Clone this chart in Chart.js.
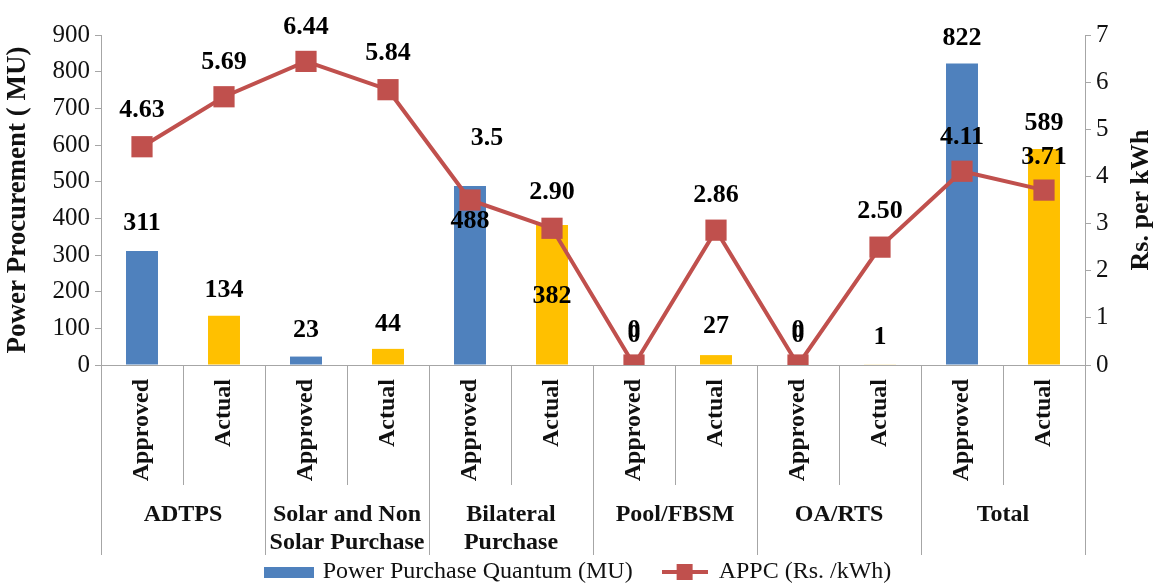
<!DOCTYPE html>
<html>
<head>
<meta charset="utf-8">
<script src="https://cdn.jsdelivr.net/npm/chart.js@4.4.0/dist/chart.umd.min.js"></script>
<style>
  html, body { margin: 0; padding: 0; background: #fff; }
  #wrap { width: 1158px; height: 583px; }
</style>
</head>
<body>
<div id="wrap"><canvas id="chart"></canvas></div>
<script>
/* ---- Power purchase: approved vs actual ---- */

const subLabels = ['Approved', 'Actual', 'Approved', 'Actual', 'Approved', 'Actual',
                   'Approved', 'Actual', 'Approved', 'Actual', 'Approved', 'Actual'];
const groupLabels = [['ADTPS'], ['Solar and Non', 'Solar Purchase'], ['Bilateral', 'Purchase'],
                     ['Pool/FBSM'], ['OA/RTS'], ['Total']];
const quantumMU = [311, 134, 23, 44, 488, 382, 0, 27, 0, 1, 822, 589];
const appcRs = [4.63, 5.69, 6.44, 5.84, 3.5, 2.90, 0, 2.86, 0, 2.50, 4.11, 3.71];
const appcText = ['4.63', '5.69', '6.44', '5.84', '3.5', '2.90', '0', '2.86', '0', '2.50', '4.11', '3.71'];
const leftTicks = { min: 0, max: 900, step: 100 };
const rightTicks = { min: 0, max: 7, step: 1 };

// label nudges (px), the way the original had them dragged around
const barLabelDy = [-28, -26, -26, -25, 35, 71, -35, -29, -35, -27, -25, -26];
const lineLabelDy = [-36, -34, -34, -36, -62, -36, -30, -35, -30, -36, -34, -33];
const lineLabelDx = [0, 0, 0, 0, 17, 0, 0, 0, 0, 0, 0, 0];

const BLUE = '#4F81BD', GOLD = '#FFC000', RED = '#C0504D', AXIS = '#a6a6a6', INK = '#111';
const SERIF = "'Liberation Serif', 'Times New Roman', serif";

function legendIcon(w, h, draw) {
  const c = document.createElement('canvas');
  c.width = w; c.height = h;
  draw(c.getContext('2d'));
  return c;
}
const barIcon = legendIcon(50, 11, g => { g.fillStyle = BLUE; g.fillRect(0, 0, 50, 11); });
const lineIcon = legendIcon(46, 18, g => {
  g.strokeStyle = RED; g.lineWidth = 4;
  g.beginPath(); g.moveTo(0, 9); g.lineTo(46, 9); g.stroke();
  g.fillStyle = RED; g.fillRect(15, 1, 16, 16);
});

// value labels on bars and line points
const valueLabels = {
  id: 'valueLabels',
  afterDatasetsDraw(chart) {
    const ctx = chart.ctx;
    ctx.save();
    ctx.font = 'bold 26px ' + SERIF;
    ctx.fillStyle = '#000';
    ctx.textAlign = 'center';
    ctx.textBaseline = 'middle';
    chart.getDatasetMeta(0).data.forEach((el, i) => {
      ctx.fillText(String(quantumMU[i]), el.x, el.y + barLabelDy[i]);
    });
    chart.getDatasetMeta(1).data.forEach((el, i) => {
      ctx.fillText(appcText[i], el.x + lineLabelDx[i], el.y + lineLabelDy[i]);
    });
    ctx.restore();
  }
};

// second level of the category axis + separators + right title
const groupAxis = {
  id: 'groupAxis',
  afterDraw(chart) {
    const ctx = chart.ctx, x = chart.scales.x;
    const top = chart.chartArea.bottom;
    const step = (x.right - x.left) / subLabels.length;
    ctx.save();
    ctx.strokeStyle = AXIS;
    ctx.lineWidth = 1;
    for (let i = 0; i <= subLabels.length; i++) {
      const px = Math.round(x.left + i * step) + 0.5;
      const len = i % 2 === 0 ? 190 : 120;
      ctx.beginPath(); ctx.moveTo(px, top); ctx.lineTo(px, top + len); ctx.stroke();
    }
    ctx.font = 'bold 24px ' + SERIF;
    ctx.fillStyle = INK;
    ctx.textAlign = 'center';
    ctx.textBaseline = 'middle';
    groupLabels.forEach((lines, g) => {
      const cx = x.left + (g * 2 + 1) * step;
      lines.forEach((t, k) => ctx.fillText(t, cx, top + 150 + k * 28));
    });
    // right axis title reads bottom-to-top
    const a = chart.chartArea;
    ctx.font = 'bold 26px ' + SERIF;
    ctx.translate(1141, (a.top + a.bottom) / 2);
    ctx.rotate(-Math.PI / 2);
    ctx.fillText('Rs. per kWh', 0, 0);
    ctx.restore();
  }
};

new Chart(document.getElementById('chart'), {
  data: {
    labels: subLabels,
    datasets: [
      {
        type: 'bar',
        label: 'Power Purchase Quantum (MU)',
        data: quantumMU,
        yAxisID: 'y',
        backgroundColor: subLabels.map(s => s === 'Approved' ? BLUE : GOLD),
        barPercentage: 0.39,
        categoryPercentage: 1,
        order: 1
      },
      {
        type: 'line',
        label: 'APPC (Rs. /kWh)',
        data: appcRs,
        yAxisID: 'y1',
        borderColor: RED,
        borderWidth: 4,
        pointStyle: 'rect',
        pointRadius: 15,
        pointBackgroundColor: RED,
        pointBorderColor: RED,
        pointBorderWidth: 0,
        tension: 0,
        order: 0
      }
    ]
  },
  options: {
    responsive: true,
    maintainAspectRatio: false,
    animation: false,
    layout: { padding: { top: 35, bottom: -11, left: 0, right: 0 } },
    plugins: {
      tooltip: { enabled: false },
      legend: {
        position: 'bottom',
        labels: {
          font: { family: SERIF, size: 24 },
          color: INK,
          usePointStyle: true,
          pointStyleWidth: 44,
          padding: 30,
          sort: (a, b) => a.datasetIndex - b.datasetIndex,
          generateLabels(chart) {
            return Chart.defaults.plugins.legend.labels.generateLabels(chart).map(item => {
              item.pointStyle = item.datasetIndex === 0 ? barIcon : lineIcon;
              return item;
            });
          }
        }
      }
    },
    scales: {
      x: {
        grid: { display: false, drawTicks: false },
        border: { display: true, color: AXIS },
        ticks: {
          autoSkip: false, minRotation: 90, maxRotation: 90, padding: 14,
          color: INK, font: { family: SERIF, size: 24, weight: 'bold' }
        },
        afterFit(scale) { scale.height = 165; }
      },
      y: {
        position: 'left',
        min: leftTicks.min, max: leftTicks.max,
        ticks: { stepSize: leftTicks.step, padding: 5, color: INK, font: { family: SERIF, size: 25 } },
        grid: { drawOnChartArea: false, drawTicks: true, tickLength: 6, color: AXIS },
        border: { color: AXIS },
        title: {
          display: true, text: 'Power Procurement ( MU)', color: INK,
          font: { family: SERIF, size: 27, weight: 'bold' }, padding: { top: 2, bottom: 0 }
        },
        afterFit(scale) { scale.width = 101; }
      },
      y1: {
        position: 'right',
        min: rightTicks.min, max: rightTicks.max,
        ticks: { stepSize: rightTicks.step, padding: 5, color: INK, font: { family: SERIF, size: 25 } },
        grid: { drawOnChartArea: false, drawTicks: true, tickLength: 6, color: AXIS },
        border: { color: AXIS },
        afterFit(scale) { scale.width = 73; }
      }
    }
  },
  plugins: [valueLabels, groupAxis]
});
</script>
</body>
</html>
